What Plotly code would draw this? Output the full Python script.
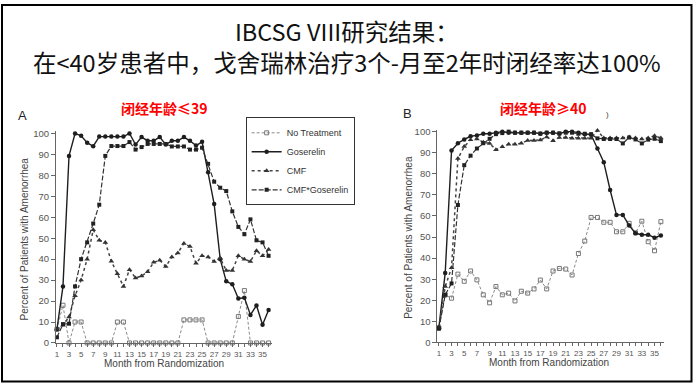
import plotly.graph_objects as go

months = list(range(1, 37))
series_names = ["No Treatment", "Goserelin", "CMF", "CMF*Goserelin"]

# Panel A (<=39)
a_none = [6.5, 18, 0, 10, 10, 0, 0, 0, 0, 0, 10, 10, 0, 0, 0, 0, 0, 0, 0, 0, 0, 11, 11, 11,
          11, 0, 0, 0, 0, 0, 12.6, 25, 0, 0, 0, 0]
a_gos = [6.5, 27, 89.3, 100, 98.9, 95.6, 93.9, 98.5, 98.5, 98.5, 98.5, 98.5, 100, 94.7, 98.3,
         96.5, 96.5, 98.3, 94.7, 96.5, 96.5, 98.3, 96.5, 94.2, 96, 81.5, 66.3, 40, 29.4, 28,
         21.2, 21.6, 13.4, 17.9, 8.7, 15.7]
a_cmf = [6.5, 8.4, 12.4, 22.5, 30, 40, 54, 49, 48, 39, 33, 27, 35, 31, 32, 34, 38.5, 39.5, 36.5,
         41, 43, 47.5, 46, 38, 41.6, 41, 38.9, 40.5, 34.6, 34.6, 41.6, 40, 38.9, 44, 41.6, 44.6]
a_cmfgos = [2.7, 9, 9.2, 27, 40, 48, 57, 66, 89.3, 94, 94, 94, 95.9, 92.3, 93.5, 95, 95, 95, 95,
            93.8, 93.8, 93.8, 92.3, 92.3, 93.2, 85.5, 77, 74.1, 72.5, 62.8, 55.4, 51.9, 59,
            49, 48, 41.6]

# Panel B (>=40)
b_none = [7, 22.5, 21, 32.4, 29, 33.9, 29.7, 22.6, 18.8, 26.5, 22.6, 23.4, 19.7, 24.3, 23.4,
          25.4, 29.6, 25.4, 33.9, 35.1, 34.8, 32, 42.2, 48.1, 59.3, 59.3, 57, 57, 52.5, 52.5,
          56.5, 52, 57.5, 47.8, 43.5, 57.3]
b_gos = [7, 33, 91, 94.5, 96.3, 97.8, 98.2, 99, 99, 99.5, 100, 99.5, 99.5, 99.5, 99.5, 99.5, 99,
         99.5, 99.5, 99, 100, 100, 99.5, 98.8, 98.5, 92, 85.5, 72.3, 60.5, 60.5, 55.5, 51.8,
         51.1, 51.1, 49.7, 50.7]
b_cmf = [7, 26.5, 35.4, 87.2, 92.9, 96.1, 96.5, 95, 94.4, 91.4, 92.8, 94, 94, 94.5, 95.8, 95.8,
         96, 97.5, 95.7, 97.2, 97.2, 96.9, 96.9, 96.9, 96.9, 100.5, 97, 97, 97, 97, 97.5, 97,
         96.5, 97, 98, 97]
b_cmfgos = [6.5, 22.6, 28, 65.2, 84.1, 88.6, 92, 94.5, 96.6, 98.8, 99.3, 100, 99.5, 99.5, 99.5,
            99.5, 99.1, 99.5, 99.5, 99.2, 99.5, 99.5, 99, 99, 98.8, 96.8, 96.5, 96.5, 96.5, 94.4,
            97.2, 96.3, 94.4, 96.2, 96.6, 95.5]

styles = {
    "No Treatment": dict(line=dict(color="#8a8a8a", width=1, dash="3px,2px"),
                         marker=dict(symbol="square-open", size=4, color="#777",
                                     line=dict(width=1, color="#777"))),
    "Goserelin": dict(line=dict(color="#1e1e1e", width=1.4, dash="solid"),
                      marker=dict(symbol="circle", size=4.5, color="#1e1e1e")),
    "CMF": dict(line=dict(color="#444", width=1.5, dash="dot"),
                marker=dict(symbol="triangle-up", size=5, color="#333")),
    "CMF*Goserelin": dict(line=dict(color="#333", width=1.2, dash="5px,2px"),
                          marker=dict(symbol="square", size=4, color="#222")),
}

fig = go.Figure()
panels = [("x", "y", [a_none, a_gos, a_cmf, a_cmfgos], True),
          ("x2", "y2", [b_none, b_gos, b_cmf, b_cmfgos], False)]
for xa, ya, data, show in panels:
    for name, vals in zip(series_names, data):
        st = styles[name]
        fig.add_trace(go.Scatter(x=months, y=vals, mode="lines+markers", name=name,
                                 xaxis=xa, yaxis=ya, line=st["line"], marker=st["marker"],
                                 showlegend=show, cliponaxis=False))

W, H = 693, 388
def px(v):
    return v / W
def py(v):
    return 1 - v / H

tick_font = dict(family="Liberation Sans, Arial", size=8, color="#555")
ytick_font = dict(family="Liberation Sans, Arial", size=9.5, color="#555")
xtext = [str(m) if m % 2 == 1 else "" for m in months]

def xaxis(domain, rng):
    return dict(domain=domain, range=rng, tickvals=months, ticktext=xtext, ticks="outside",
                ticklen=3, tickcolor="#666", tickfont=tick_font, showline=True,
                linecolor="#666", linewidth=1, showgrid=False, zeroline=False)

def yaxis(domain, anchor):
    return dict(domain=domain, range=[0, 101], tickvals=list(range(0, 101, 10)),
                ticks="outside", ticklen=4, tickcolor="#666", tickfont=ytick_font,
                showline=True, linecolor="#666", linewidth=1, showgrid=False,
                zeroline=False, anchor=anchor)

xa1 = xaxis([px(55), px(271)], [0.835, 36.5]); xa1["anchor"] = "y"
xa2 = xaxis([px(437), px(664)], [0.764, 36.5]); xa2["anchor"] = "y2"
ya1 = yaxis([py(347), py(130.4)], "x")
ya2 = yaxis([py(346.5), py(128.5)], "x2")

inner = dict(tickvals=months, ticks="inside", ticklen=3, tickcolor="#666",
             showticklabels=False, showline=False, showgrid=False, zeroline=False)
xa3 = dict(inner, overlaying="x", anchor="y", range=[0.835, 36.5])
xa4 = dict(inner, overlaying="x2", anchor="y2", range=[0.764, 36.5])

fig.update_layout(
    width=W, height=H, margin=dict(l=0, r=0, t=0, b=0),
    paper_bgcolor="white", plot_bgcolor="white",
    xaxis=xa1, yaxis=ya1, xaxis2=xa2, yaxis2=ya2, xaxis3=xa3, xaxis4=xa4,
    showlegend=True,
    legend=dict(x=px(245), y=py(116), xanchor="left", yanchor="top",
                bordercolor="#333", borderwidth=1, bgcolor="white",
                font=dict(family="Liberation Sans, Arial", size=9, color="#333"),
                tracegroupgap=0, itemwidth=30),
)

cjk = "Noto Sans CJK SC"
ann = [
    dict(x=px(347), y=py(44), text="IBCSG VIII研究结果：<br>在<40岁患者中，戈舍瑞林治疗3个-月至2年时闭经率达100%",
         font=dict(family=cjk, size=23.5, color="#111")),
    dict(x=px(164), y=py(106), text="<b>闭经年龄≤39</b>", font=dict(family=cjk, size=14, color="#ff0000")),
    dict(x=px(543), y=py(106), text="<b>闭经年龄≥40</b>", font=dict(family=cjk, size=14, color="#ff0000")),
    dict(x=px(22), y=py(114), text="A", font=dict(family="Liberation Sans, Arial", size=13, color="#222")),
    dict(x=px(407), y=py(112), text="B", font=dict(family="Liberation Sans, Arial", size=13, color="#222")),
    dict(x=px(607), y=py(113), text=")", font=dict(family="Liberation Sans, Arial", size=8, color="#444")),
    dict(x=px(23), y=py(240), text="Percent of Patients with Amenorrhea", textangle=-90,
         font=dict(family="Liberation Sans, Arial", size=10, color="#444")),
    dict(x=px(408), y=py(239), text="Percent of Patients with Amenorrhea", textangle=-90,
         font=dict(family="Liberation Sans, Arial", size=10, color="#444")),
    dict(x=px(163), y=py(368), text="Month from Randomization",
         font=dict(family="Liberation Sans, Arial", size=10, color="#444")),
    dict(x=px(549), y=py(367), text="Month from Randomization",
         font=dict(family="Liberation Sans, Arial", size=10, color="#444")),
]
for a in ann:
    a.update(xref="paper", yref="paper", showarrow=False, xanchor="center", yanchor="middle")
fig.update_layout(annotations=ann)

fig.add_shape(type="rect", xref="paper", yref="paper", x0=px(1), y0=py(386.5), x1=px(691.5),
              y1=py(1), line=dict(color="black", width=2))

fig.write_html("out.html", config={"displayModeBar": False},
               post_script="document.body.style.margin='0';document.body.style.overflow='hidden';")
